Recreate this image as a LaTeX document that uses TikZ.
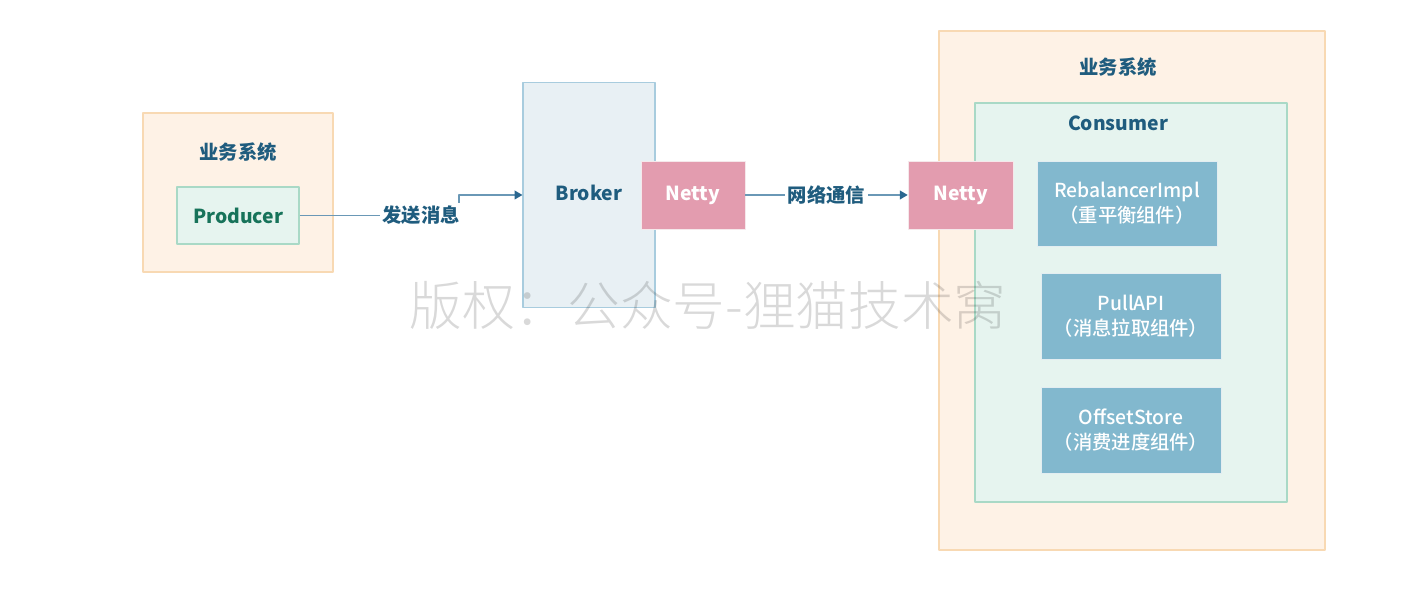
\documentclass[tikz,border=0pt]{standalone}
\usepackage{fontspec}
\setmainfont{Noto Sans CJK SC}
\newfontfamily\medfont{Noto Sans CJK SC Medium}
\newfontfamily\litefont{Noto Sans CJK SC Light}
\usetikzlibrary{arrows.meta,positioning}

\definecolor{sysfill}{HTML}{FEF2E6}
\definecolor{sysline}{HTML}{F8D9B3}
\definecolor{grnfill}{HTML}{E6F4EF}
\definecolor{grnline}{HTML}{A9D9C6}
\definecolor{brkfill}{HTML}{E8F0F4}
\definecolor{brkline}{HTML}{A8CCDE}
\definecolor{nettyfill}{HTML}{E39CAF}
\definecolor{compfill}{HTML}{82B8CE}
\definecolor{titleblue}{HTML}{1F5C7E}
\definecolor{prodgreen}{HTML}{17735A}
\definecolor{linkblue}{HTML}{6A98B6}
\definecolor{tipblue}{HTML}{2A6790}

\tikzset{
    sized/.style 2 args={minimum width=#1*0.02cm, minimum height=#2*0.02cm},
    sysbox/.style={draw=sysline, fill=sysfill, line width=0.6pt, inner sep=0pt},
    grnbox/.style={draw=grnline, fill=grnfill, line width=0.6pt, inner sep=0pt},
    nettybox/.style={fill=nettyfill, draw=nettyfill!90!black!20, line width=0.3pt,
        text=white, font=\bfseries\fontsize{11}{14}\selectfont},
    compbox/.style={fill=compfill, draw=compfill!90!black!20, line width=0.3pt,
        text=white, align=center, font=\medfont\fontsize{11}{14.2}\selectfont},
    title/.style={text=titleblue, font=\bfseries\fontsize{11}{14}\selectfont},
    flow/.style={draw=linkblue, line width=0.85pt, -{Triangle[length=4.5pt,width=5pt,color=tipblue]}},
    lbl/.style={fill=white, inner sep=1.5pt, text=titleblue, font=\bfseries\fontsize{11}{14}\selectfont},
}

\begin{document}
\begin{tikzpicture}[x=0.02cm, y=-0.02cm, line join=round]
\useasboundingbox (0,0) rectangle (1428,604);

% Producer side ------------------------------
\node[sysbox, sized={190}{159}] (sysL) at (238,192.5) {};
\node[title] (sysLtitle) at (238,152) {业务系统};
\node[grnbox, sized={122}{57}, text=prodgreen, font=\bfseries\fontsize{11}{14}\selectfont]
    (producer) at (238,215.5) {Producer};

% Broker ------------------------------
\node[draw=brkline, fill=brkfill, line width=0.6pt, sized={132}{225}] (broker) at (589,195) {};
\node[title] (brokertitle) at (589,193) {Broker};
\node[nettybox, sized={104}{68}] (nettyL) at (693,195) {Netty};

% Consumer side ------------------------------
\node[sysbox, sized={386}{519}] (sysR) at (1132,290.5) {};
\node[title] (sysRtitle) at (1118,67) {业务系统};
\node[grnbox, sized={312}{399}] (consumer) at (1131,302.5) {};
\node[title] (consumertitle) at (1118,123) {Consumer};
\node[nettybox, sized={105}{68}] (nettyR) at (960.5,195) {Netty};

\node[compbox, sized={180}{85}] (rebalance) at (1127,203.5) {RebalancerImpl\\（重平衡组件）};
\node[compbox, sized={180}{86}] (pull) at (1131,316) {PullAPI\\（消息拉取组件）};
\node[compbox, sized={180}{86}] (offset) at (1131,430) {OffsetStore\\（消费进度组件）};

% links ------------------------------
\coordinate (bend) at (459,215.5);
\draw[flow] (producer.east) -- (bend) |- (broker.west);
\node[lbl] (send) at (421,215) {发送消息};

\draw[flow] (nettyL.east) -- (nettyR.west)
    node[lbl, midway] (net) {网络通信};

% watermark
\node[text=black, opacity=0.15, font=\litefont\fontsize{30}{36}\selectfont] (mark) at (708,305)
    {版权：公众号-狸猫技术窝};

\end{tikzpicture}
\end{document}
